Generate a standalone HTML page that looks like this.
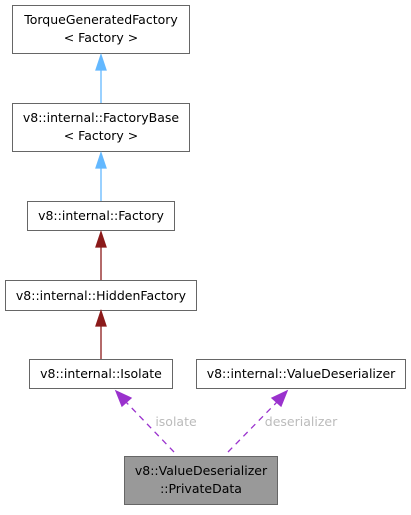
<!DOCTYPE html>
<html><head><style>body{margin:0;background:#fff}</style></head><body>
<svg width="411" height="510" xmlns="http://www.w3.org/2000/svg" font-family="DejaVu Sans, Liberation Sans, sans-serif" font-size="12.5" text-anchor="middle">
<g fill="#fff" stroke="#666">
<rect x="12.5" y="5.5" width="177" height="48"/>
<rect x="12.5" y="103.5" width="177" height="48"/>
<rect x="27.5" y="201.5" width="147" height="29"/>
<rect x="5.5" y="280.5" width="191" height="30"/>
<rect x="29.5" y="359.5" width="143" height="29"/>
<rect x="196.5" y="359.5" width="209" height="29"/>
<rect x="124.5" y="456.5" width="153" height="48" fill="#999"/>
</g>
<g fill="#000">
<text x="101" y="24">TorqueGeneratedFactory</text><text x="101" y="42">&lt; Factory &gt;</text>
<text x="101" y="122">v8::internal::FactoryBase</text><text x="101" y="140">&lt; Factory &gt;</text>
<text x="101" y="220">v8::internal::Factory</text>
<text x="101" y="300">v8::internal::HiddenFactory</text>
<text x="101" y="378">v8::internal::Isolate</text>
<text x="301" y="378">v8::internal::ValueDeserializer</text>
<text x="201" y="475">v8::ValueDeserializer</text><text x="201" y="493">::PrivateData</text>
</g>
<g stroke="#63b8ff" fill="#63b8ff" stroke-width="1.3">
<line x1="101" y1="103" x2="101" y2="70"/><polygon points="101,55 96,70 106,70"/>
<line x1="101" y1="201" x2="101" y2="168"/><polygon points="101,153 96,168 106,168"/>
</g>
<g stroke="#8b1a1a" fill="#8b1a1a" stroke-width="1.3">
<line x1="101" y1="280" x2="101" y2="247"/><polygon points="101,232 96,247 106,247"/>
<line x1="101" y1="359" x2="101" y2="326"/><polygon points="101,311 96,326 106,326"/>
</g>
<g stroke="#9a32cd" fill="#9a32cd" stroke-width="1.3">
<line x1="174" y1="452" x2="126" y2="402" stroke-dasharray="6,5"/><polygon points="116,391 122,406 131,398"/>
<line x1="228" y1="452" x2="277" y2="402" stroke-dasharray="6,5"/><polygon points="287,391 272,398 281,406"/>
</g>
<g fill="#bbb">
<text x="176" y="426">isolate</text>
<text x="301" y="426">deserializer</text>
</g>
</svg>
</body></html>
